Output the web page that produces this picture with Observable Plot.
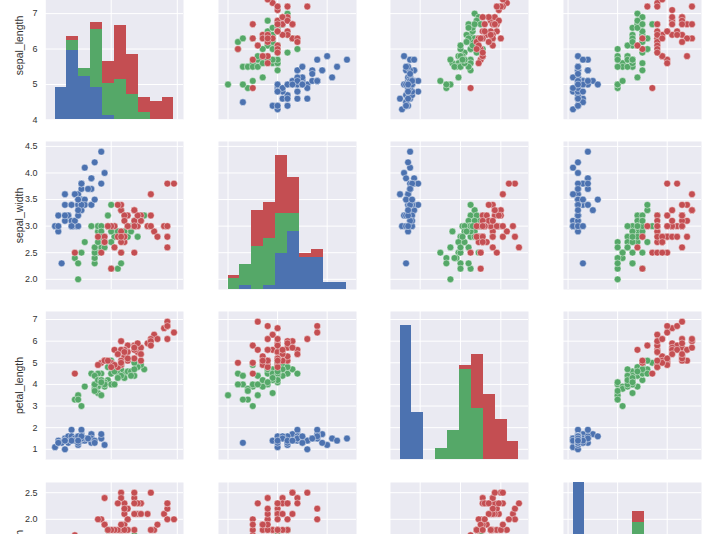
<!DOCTYPE html>
<html><head><meta charset="utf-8">
<script src="https://cdn.jsdelivr.net/npm/d3@7"></script>
<script src="https://cdn.jsdelivr.net/npm/@observablehq/plot@0.6"></script>
<style>
body{margin:0;background:#fff}
#wrap{position:relative;width:709px;height:534px;overflow:hidden;font-family:"Liberation Sans",Arial,sans-serif}
#wrap > svg{position:absolute;overflow:visible}
</style></head><body><div id="wrap"></div>
<script>
// Iris data (150 flowers, 50 per species, in order)
const speciesNames = ["setosa","versicolor","virginica"];
const speciesCounts = [50,50,50];
const sepal_length = [5.1,4.9,4.7,4.6,5.0,5.4,4.6,5.0,4.4,4.9,5.4,4.8,4.8,4.3,5.8,5.7,5.4,5.1,5.7,5.1,5.4,5.1,4.6,5.1,4.8,5.0,5.0,5.2,5.2,4.7,4.8,5.4,5.2,5.5,4.9,5.0,5.5,4.9,4.4,5.1,5.0,4.5,4.4,5.0,5.1,4.8,5.1,4.6,5.3,5.0,
7.0,6.4,6.9,5.5,6.5,5.7,6.3,4.9,6.6,5.2,5.0,5.9,6.0,6.1,5.6,6.7,5.6,5.8,6.2,5.6,5.9,6.1,6.3,6.1,6.4,6.6,6.8,6.7,6.0,5.7,5.5,5.5,5.8,6.0,5.4,6.0,6.7,6.3,5.6,5.5,5.5,6.1,5.8,5.0,5.6,5.7,5.7,6.2,5.1,5.7,
6.3,5.8,7.1,6.3,6.5,7.6,4.9,7.3,6.7,7.2,6.5,6.4,6.8,5.7,5.8,6.4,6.5,7.7,7.7,6.0,6.9,5.6,7.7,6.3,6.7,7.2,6.2,6.1,6.4,7.2,7.4,7.9,6.4,6.3,6.1,7.7,6.3,6.4,6.0,6.9,6.7,6.9,5.8,6.8,6.7,6.7,6.3,6.5,6.2,5.9];
const sepal_width = [3.5,3.0,3.2,3.1,3.6,3.9,3.4,3.4,2.9,3.1,3.7,3.4,3.0,3.0,4.0,4.4,3.9,3.5,3.8,3.8,3.4,3.7,3.6,3.3,3.4,3.0,3.4,3.5,3.4,3.2,3.1,3.4,4.1,4.2,3.1,3.2,3.5,3.6,3.0,3.4,3.5,2.3,3.2,3.5,3.8,3.0,3.8,3.2,3.7,3.3,
3.2,3.2,3.1,2.3,2.8,2.8,3.3,2.4,2.9,2.7,2.0,3.0,2.2,2.9,2.9,3.1,3.0,2.7,2.2,2.5,3.2,2.8,2.5,2.8,2.9,3.0,2.8,3.0,2.9,2.6,2.4,2.4,2.7,2.7,3.0,3.4,3.1,2.3,3.0,2.5,2.6,3.0,2.6,2.3,2.7,3.0,2.9,2.9,2.5,2.8,
3.3,2.7,3.0,2.9,3.0,3.0,2.5,2.9,2.5,3.6,3.2,2.7,3.0,2.5,2.8,3.2,3.0,3.8,2.6,2.2,3.2,2.8,2.8,2.7,3.3,3.2,2.8,3.0,2.8,3.0,2.8,3.8,2.8,2.8,2.6,3.0,3.4,3.1,3.0,3.1,3.1,3.1,2.7,3.2,3.3,3.0,2.5,3.0,3.4,3.0];
const petal_length = [1.4,1.4,1.3,1.5,1.4,1.7,1.4,1.5,1.4,1.5,1.5,1.6,1.4,1.1,1.2,1.5,1.3,1.4,1.7,1.5,1.7,1.5,1.0,1.7,1.9,1.6,1.6,1.5,1.4,1.6,1.6,1.5,1.5,1.4,1.5,1.2,1.3,1.4,1.3,1.5,1.3,1.3,1.3,1.6,1.9,1.4,1.6,1.4,1.5,1.4,
4.7,4.5,4.9,4.0,4.6,4.5,4.7,3.3,4.6,3.9,3.5,4.2,4.0,4.7,3.6,4.4,4.5,4.1,4.5,3.9,4.8,4.0,4.9,4.7,4.3,4.4,4.8,5.0,4.5,3.5,3.8,3.7,3.9,5.1,4.5,4.5,4.7,4.4,4.1,4.0,4.4,4.6,4.0,3.3,4.2,4.2,4.2,4.3,3.0,4.1,
6.0,5.1,5.9,5.6,5.8,6.6,4.5,6.3,5.8,6.1,5.1,5.3,5.5,5.0,5.1,5.3,5.5,6.7,6.9,5.0,5.7,4.9,6.7,4.9,5.7,6.0,4.8,4.9,5.6,5.8,6.1,6.4,5.6,5.1,5.6,6.1,5.6,5.5,4.8,5.4,5.6,5.1,5.1,5.9,5.7,5.2,5.0,5.2,5.4,5.1];
const petal_width = [0.2,0.2,0.2,0.2,0.2,0.4,0.3,0.2,0.2,0.1,0.2,0.2,0.1,0.1,0.2,0.4,0.4,0.3,0.3,0.3,0.2,0.4,0.2,0.5,0.2,0.2,0.4,0.2,0.2,0.2,0.2,0.4,0.1,0.2,0.2,0.2,0.2,0.1,0.2,0.2,0.3,0.3,0.2,0.6,0.4,0.3,0.2,0.2,0.2,0.2,
1.4,1.5,1.5,1.3,1.5,1.3,1.6,1.0,1.3,1.4,1.0,1.5,1.0,1.4,1.3,1.4,1.5,1.0,1.5,1.1,1.8,1.3,1.5,1.2,1.3,1.4,1.4,1.7,1.5,1.0,1.1,1.0,1.2,1.6,1.5,1.6,1.5,1.3,1.3,1.3,1.2,1.4,1.2,1.0,1.3,1.2,1.3,1.3,1.1,1.3,
2.5,1.9,2.1,1.8,2.2,2.1,1.7,1.8,1.8,2.5,2.0,1.9,2.1,2.0,2.4,2.3,1.8,2.2,2.3,1.5,2.3,2.0,2.0,1.8,2.1,1.8,1.8,1.8,2.1,1.6,1.9,2.0,2.2,1.5,1.4,2.3,2.4,1.8,1.8,2.1,2.4,2.3,1.9,2.3,2.5,2.3,1.9,2.0,2.3,1.8];

const vars = ["sepal_length","sepal_width","petal_length","petal_width"];
const cols = {sepal_length, sepal_width, petal_length, petal_width};
const xTicks = {sepal_length:[4,6,8], sepal_width:[2,3,4], petal_length:[2,4,6], petal_width:[0,1,2]};
const yTicks = {sepal_length:[4,5,6,7,8], sepal_width:[2,2.5,3,3.5,4,4.5], petal_length:[1,2,3,4,5,6,7], petal_width:[0,0.5,1,1.5,2,2.5]};
const yFormat = {sepal_length:"d", sepal_width:".1f", petal_length:"d", petal_width:".1f"};
const palette = ["#4C72B0","#55A868","#C44E52"];

const species = speciesNames.flatMap((s,k) => Array(speciesCounts[k]).fill(s));
const rows = species.map((s,i) => ({species:s, sepal_length:sepal_length[i], sepal_width:sepal_width[i], petal_length:petal_length[i], petal_width:petal_width[i]}));

// layout
const W = 138, H = 148, AXW = 45;
const colX = [45, 217.5, 390, 563];
const rowY = [-29, 141, 311, 482];
const PAD = 0.08;
const domain = v => { const [a,b] = d3.extent(cols[v]); const r = b - a; return [a - PAD*r, b + PAD*r]; };

// stacked histograms, 10 equal bins over each variable's range
const NB = 10;
function hist(v) {
  const [a,b] = d3.extent(cols[v]);
  const step = (b - a) / NB;
  const edges = d3.range(NB + 1).map(k => k*step + a); edges[NB] = b;
  const out = [];
  speciesNames.forEach(s => {
    const counts = new Array(NB).fill(0);
    rows.forEach(r => { if (r.species !== s) return; let k = d3.bisectRight(edges, r[v]) - 1; k = Math.max(0, Math.min(NB-1, k)); counts[k]++; });
    counts.forEach((c,k) => out.push({species:s, x1:edges[k], x2:edges[k+1], count:c}));
  });
  return out;
}
const hists = Object.fromEntries(vars.map(v => [v, hist(v)]));
const maxCount = d3.max(vars, v => d3.max(d3.range(NB), k => d3.sum(hists[v].filter((d,i) => i % NB === k), d => d.count)));

const wrap = document.getElementById("wrap");
const style = {background:"transparent", color:"#333", fontSize:"9px", fontFamily:"'Liberation Sans', Arial, sans-serif"};

function place(svg, left, top) { svg.style.left = left + "px"; svg.style.top = top + "px"; wrap.appendChild(svg); }

vars.forEach((yv, i) => {
  vars.forEach((xv, j) => {
    const first = j === 0;
    const ml = first ? AXW : 0;
    const marks = [
      Plot.frame({fill:"#EAEAF2", stroke:null}),
      Plot.gridX(xTicks[xv], {stroke:"white", strokeOpacity:1, strokeWidth:1}),
      Plot.gridY(yTicks[yv], {stroke:"white", strokeOpacity:1, strokeWidth:1})
    ];
    if (i !== j) {
      marks.push(Plot.dot(rows, {x:xv, y:yv, fill:"species", stroke:"white", strokeWidth:0.5, strokeOpacity:0.85, r:3.4, fillOpacity:1}));
    }
    if (first) {
      marks.push(Plot.axisY({ticks:yTicks[yv], tickFormat:yFormat[yv], tickSize:0, tickPadding:8, label:null}));
      marks.push(Plot.text([yv], {frameAnchor:"left", text:d => d, rotate:-90, textAnchor:"middle", lineAnchor:"middle", dx:-26, fontSize:10.5, fill:"#333"}));
    }
    const svg = Plot.plot({
      width: W + ml, height: H,
      marginLeft: ml, marginRight: 0, marginTop: 0, marginBottom: 0,
      x: {domain: domain(xv), axis: null},
      y: {domain: domain(yv), axis: null},
      color: {domain: speciesNames, range: palette},
      style,
      marks
    });
    place(svg, colX[j] - ml, rowY[i]);

    if (i === j) {
      const hsvg = Plot.plot({
        width: W, height: H,
        marginLeft: 0, marginRight: 0, marginTop: 0, marginBottom: 0,
        x: {domain: domain(xv), axis: null},
        y: {domain: [0, maxCount], axis: null},
        color: {domain: speciesNames, range: palette},
        style,
        marks: [
          Plot.rectY(hists[xv], {x1:"x1", x2:"x2", y:"count", fill:"species", shapeRendering:"crispEdges"})
        ]
      });
      place(hsvg, colX[j], rowY[i]);
    }
  });
});
</script></body></html>
